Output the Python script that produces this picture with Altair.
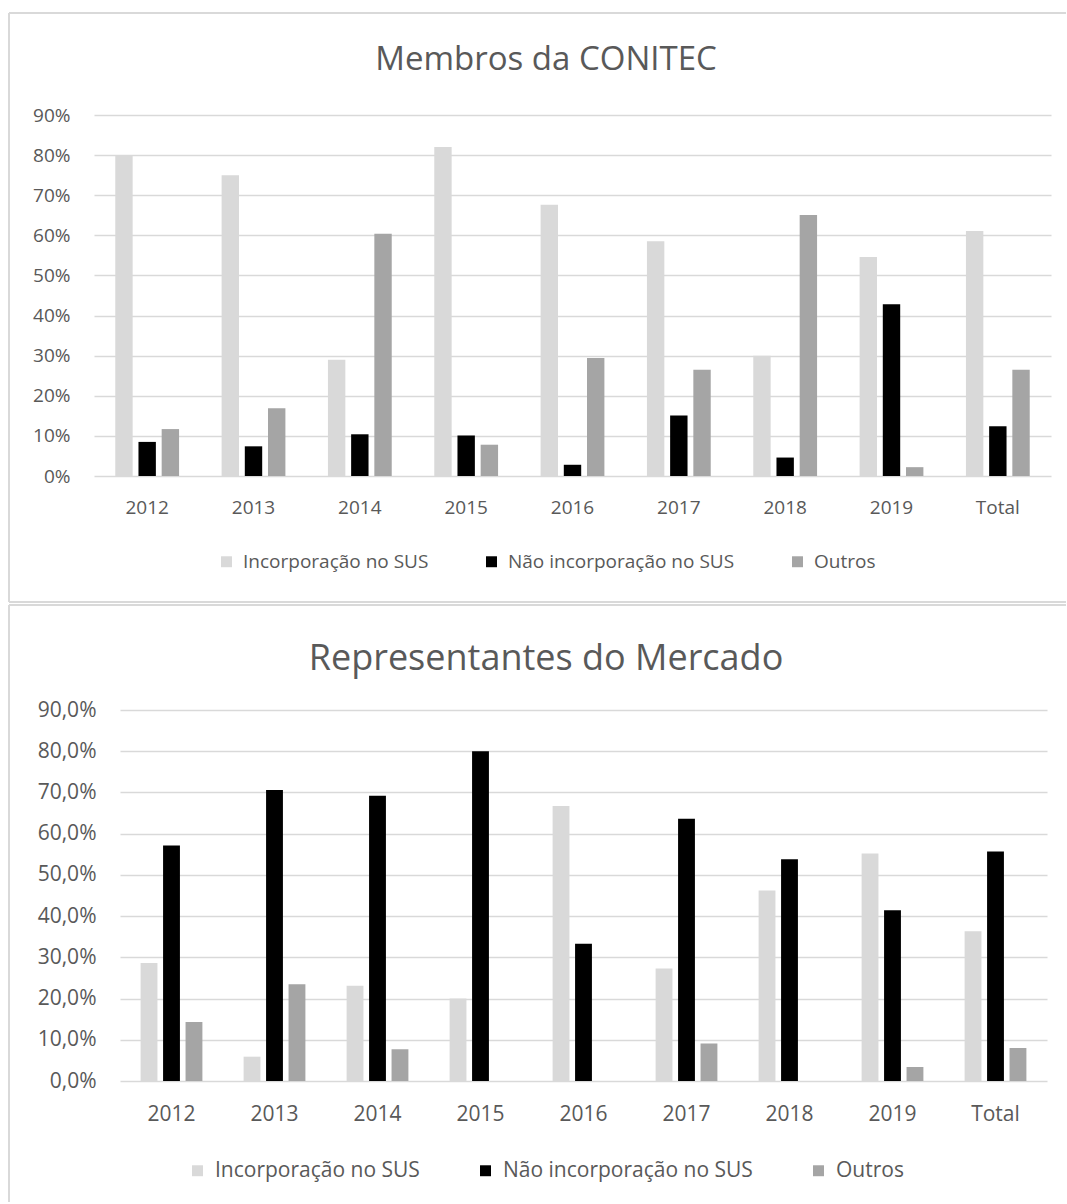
import altair as alt
import pandas as pd

# ---------------- data ----------------
categories = ["2012", "2013", "2014", "2015", "2016", "2017", "2018", "2019", "Total"]
series = ["Incorporação no SUS", "Não incorporação no SUS", "Outros"]
colors = ["#d9d9d9", "#000000", "#a5a5a5"]

# Membros da CONITEC (%)
conitec_incorp = [80.0, 75.0, 29.0, 82.0, 67.6, 58.5, 30.0, 54.6, 61.1]
conitec_nao = [8.5, 7.4, 10.4, 10.1, 2.8, 15.1, 4.6, 42.8, 12.4]
conitec_outros = [11.7, 16.9, 60.4, 7.8, 29.4, 26.5, 65.1, 2.2, 26.5]

# Representantes do Mercado (%)
mercado_incorp = [28.6, 5.9, 23.1, 20.0, 66.7, 27.3, 46.2, 55.2, 36.3]
mercado_nao = [57.1, 70.6, 69.2, 80.0, 33.3, 63.6, 53.8, 41.4, 55.7]
mercado_outros = [14.3, 23.5, 7.7, 0.0, 0.0, 9.1, 0.0, 3.4, 8.0]

title_top = "Membros da CONITEC"
title_bottom = "Representantes do Mercado"

y_ticks = [round(i / 10, 1) for i in range(10)]

FONT = "Open Sans"
TEXT = "#595959"
FRAME = "#d9d9d9"


def long_df(vals_by_series):
    rows = []
    for s, vals in zip(series, vals_by_series):
        for c, v in zip(categories, vals):
            rows.append({"cat": c, "serie": s, "valor": v / 100})
    return pd.DataFrame(rows)


one = pd.DataFrame({"k": [0]})


def panel(df, title, width, height, xrange, label_expr, fs, title_fs,
          ylab_pad, xlab_pad, legend_x, legend_y, col_pad,
          title_x, title_y, frame_top, frame_bottom, frame_right, bottom_border):
    bars = alt.Chart(df).mark_bar().encode(
        x=alt.X("cat:N", sort=categories,
                scale=alt.Scale(range=xrange, paddingInner=0.4, paddingOuter=0.2),
                axis=alt.Axis(title=None, labelAngle=0, labelFontSize=fs, labelColor=TEXT,
                              labelFont=FONT, domain=False, ticks=False, tickSize=0,
                              labelPadding=xlab_pad, grid=False)),
        xOffset=alt.XOffset("serie:N", sort=series,
                            scale=alt.Scale(paddingInner=0.25, paddingOuter=0)),
        y=alt.Y("valor:Q", scale=alt.Scale(domain=[0, 0.9], nice=False),
                axis=alt.Axis(title=None, values=y_ticks, labelExpr=label_expr,
                              grid=True, gridColor=FRAME, gridWidth=1.5, domain=False,
                              ticks=False, tickSize=0, labelPadding=ylab_pad,
                              labelFontSize=fs, labelColor=TEXT, labelFont=FONT)),
        color=alt.Color("serie:N", sort=series,
                        scale=alt.Scale(domain=series, range=colors),
                        legend=alt.Legend(title=None, orient="none", direction="horizontal",
                                          legendX=legend_x, legendY=legend_y,
                                          symbolType="square", symbolSize=120,
                                          symbolStrokeWidth=0, labelFontSize=fs,
                                          labelFont=FONT, labelColor=TEXT, labelOffset=7,
                                          labelLimit=0, columnPadding=col_pad, padding=0)),
    )

    title_mark = alt.Chart(one).mark_text(
        font=FONT, fontSize=title_fs, color=TEXT, align="center", baseline="middle"
    ).encode(x=alt.value(title_x), y=alt.value(title_y), text=alt.value(title))

    rule = alt.Chart(one).mark_rule(color=FRAME, strokeWidth=2)
    top_border = rule.encode(x=alt.value(-85), x2=alt.value(frame_right),
                             y=alt.value(frame_top))
    left_border = rule.encode(x=alt.value(-85), y=alt.value(frame_top),
                              y2=alt.value(frame_bottom))
    layers = [top_border, left_border]
    if bottom_border:
        layers.append(rule.encode(x=alt.value(-85), x2=alt.value(frame_right),
                                  y=alt.value(frame_bottom)))
    return alt.layer(bars, title_mark, *layers).properties(width=width, height=height)


top = panel(long_df([conitec_incorp, conitec_nao, conitec_outros]), title_top,
            957, 361, [0, 957], "format(datum.value, '.0%')", 19, 33,
            24, 22, 123, 437, 53, 452, -55, -102, 487, 972, True)

bottom = panel(long_df([mercado_incorp, mercado_nao, mercado_outros]), title_bottom,
               953, 371, [26, 953], "replace(format(datum.value, '.1%'), '.', ',')", 21, 36,
               -2, 22, 93, 450, 55, 452, -51, -105, 492, 972, False)

chart = alt.vconcat(top, bottom, spacing=1).resolve_scale(
    x="independent", y="independent", color="independent", xOffset="independent"
).resolve_legend(color="independent").properties(
    padding={"left": 8, "top": 12, "right": 0, "bottom": 0},
    background="white",
).configure_view(stroke=None)

chart.save("out.html", embed_options={"renderer": "svg", "actions": False})
